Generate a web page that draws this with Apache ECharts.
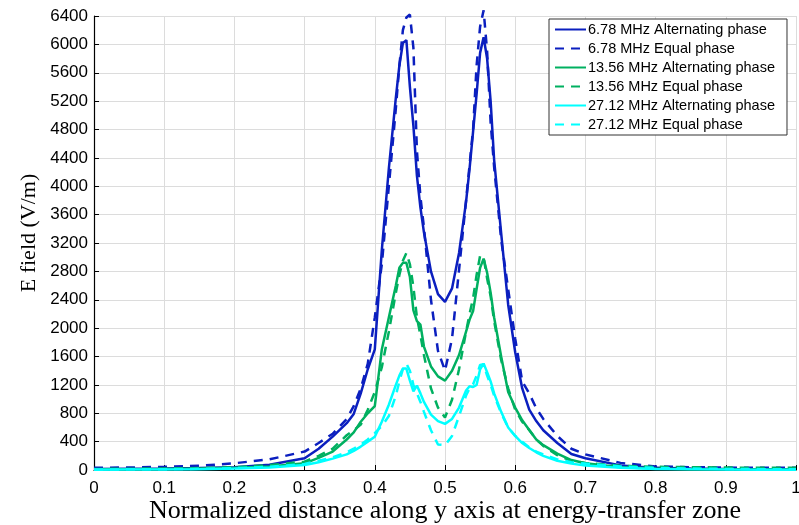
<!DOCTYPE html>
<html>
<head>
<meta charset="utf-8">
<script src="https://cdn.jsdelivr.net/npm/echarts@6/dist/echarts.min.js"></script>
<style>
  html, body { margin: 0; padding: 0; background: #fff; }
  #chart { width: 799px; height: 525px; }
</style>
</head>
<body>
<div id="chart"></div>
<script>
  // normalized distance (shared by every curve)
  var distance = [0, 0.05, 0.1, 0.15, 0.2, 0.25, 0.3, 0.32, 0.34, 0.36, 0.37, 0.38, 0.39,
    0.40, 0.41, 0.42, 0.43, 0.435, 0.44, 0.445, 0.45, 0.455, 0.46, 0.465, 0.47,
    0.48, 0.49, 0.50, 0.51, 0.52, 0.53, 0.535, 0.54, 0.545, 0.55, 0.555, 0.56, 0.565, 0.57,
    0.58, 0.59, 0.60, 0.61, 0.62, 0.63, 0.64, 0.66, 0.68, 0.70, 0.75, 0.8, 0.85, 0.9, 0.95, 1.0];

  var alt678 = [15, 18, 22, 28, 40, 75, 165, 300, 470, 660, 790, 1080, 1420,
    1700, 3100, 4250, 5250, 5700, 6020, 6060, 5400, 4850, 4150, 3700, 3350,
    2800, 2480, 2370, 2560, 3060, 3780, 4250, 4770, 5300, 5880, 6100, 5800, 5200, 4370,
    3340, 2330, 1660, 1150, 850, 690, 560, 380, 225, 165, 65, 30, 20, 15, 12, 10];

  var eq678 = [30, 35, 45, 60, 95, 150, 260, 380, 510, 720, 900, 1150, 1500,
    2150, 2900, 4000, 5100, 5700, 6200, 6380, 6420, 5950, 4500, 3850, 3420,
    2400, 1680, 1400, 1850, 2820, 3800, 4300, 4800, 5700, 6250, 6480, 5900, 4900, 4270,
    3250, 2550, 1850, 1250, 1080, 870, 720, 480, 300, 220, 100, 50, 40, 35, 30, 30];

  var alt1356 = [10, 12, 15, 20, 30, 50, 94, 170, 260, 430, 530, 680, 800,
    900, 1700, 2150, 2600, 2850, 2920, 2920, 2720, 2250, 2100, 2050, 1740,
    1460, 1320, 1260, 1400, 1620, 1950, 2120, 2240, 2550, 2850, 2980, 2780, 2500, 2150,
    1600, 1100, 880, 700, 564, 430, 350, 230, 140, 94, 40, 20, 12, 10, 8, 8];

  var eq1356 = [15, 18, 22, 28, 40, 70, 118, 200, 300, 490, 560, 640, 850,
    1100, 1450, 1950, 2500, 2750, 2950, 3060, 2900, 2580, 2150, 1900, 1620,
    1150, 880, 740, 990, 1420, 1950, 2200, 2420, 2750, 3020, 3000, 2700, 2450, 2100,
    1550, 1150, 850, 680, 564, 430, 340, 210, 130, 100, 60, 45, 40, 35, 30, 30];

  var alt2712 = [5, 6, 8, 12, 20, 35, 70, 110, 160, 220, 270, 330, 400,
    470, 680, 920, 1200, 1330, 1430, 1430, 1260, 1110, 1190, 1080, 960,
    780, 690, 650, 720, 880, 1120, 1180, 1170, 1200, 1420, 1500, 1380, 1250, 1080,
    820, 600, 480, 380, 310, 250, 200, 130, 90, 65, 30, 15, 10, 6, 5, 5];

  var eq2712 = [8, 9, 12, 16, 25, 45, 85, 130, 180, 250, 300, 360, 430,
    520, 620, 760, 1050, 1250, 1420, 1500, 1400, 1200, 1080, 960, 820,
    560, 360, 350, 480, 760, 1050, 1150, 1210, 1330, 1480, 1490, 1330, 1200, 1050,
    800, 600, 480, 400, 320, 260, 220, 150, 110, 90, 50, 30, 20, 15, 12, 10];

  var names = ['6.78 MHz Alternating phase', '6.78 MHz Equal phase',
    '13.56 MHz Alternating phase', '13.56 MHz Equal phase',
    '27.12 MHz Alternating phase', '27.12 MHz Equal phase'];

  var blue = '#0b1fbf', green = '#00b060', cyan = '#00ffff';

  function makeLine(name, values, color, dashed) {
    return {
      type: 'line',
      name: name,
      data: distance.map(function (d, i) { return [d, values[i]]; }),
      symbol: 'none',
      clip: false,
      lineStyle: { color: color, width: 2.5, type: dashed ? [9, 7] : 'solid' },
      itemStyle: { color: color }
    };
  }

  var chart = echarts.init(document.getElementById('chart'));

  chart.setOption({
    animation: false,
    grid: { left: 94, right: 3, top: 16, bottom: 55, outerBoundsMode: 'none' },
    legend: {
      orient: 'vertical',
      left: 549,
      top: 19,
      itemWidth: 31,
      itemHeight: 14,
      itemGap: 4,
      padding: [3, 12, 3, 5],
      backgroundColor: '#fff',
      borderColor: '#333',
      borderWidth: 1,
      borderRadius: 0,
      itemStyle: { opacity: 0 },
      textStyle: { fontFamily: 'Liberation Sans', fontSize: 14.5, color: '#000', padding: [0, 0, 0, -3] },
      data: names
    },
    xAxis: {
      type: 'value',
      min: 0,
      max: 1,
      interval: 0.1,
      name: 'Normalized distance along y axis at energy-transfer zone',
      nameLocation: 'middle',
      nameGap: 28,
      nameMoveOverlap: false,
      nameTextStyle: { fontFamily: 'Liberation Serif', fontSize: 26, color: '#000' },
      axisLine: { lineStyle: { color: '#000', width: 1.2 } },
      axisTick: { inside: true, length: 5, lineStyle: { color: '#000' } },
      axisLabel: { fontFamily: 'Liberation Sans', fontSize: 17, color: '#000', margin: 10 },
      splitLine: { show: true, lineStyle: { color: '#dcdcdc', width: 1 } }
    },
    yAxis: {
      type: 'value',
      min: 0,
      max: 6400,
      interval: 400,
      name: 'E field (V/m)',
      nameLocation: 'middle',
      nameGap: 54,
      nameMoveOverlap: false,
      nameTextStyle: { fontFamily: 'Liberation Serif', fontSize: 22, color: '#000', padding: [0, 0, 0, 20] },
      axisLine: { show: true, lineStyle: { color: '#000', width: 1.2 } },
      axisTick: { show: true, inside: true, length: 5, lineStyle: { color: '#000' } },
      axisLabel: {
        fontFamily: 'Liberation Sans', fontSize: 17, color: '#000', margin: 6,
        formatter: function (v) { return String(v); }
      },
      splitLine: { show: true, lineStyle: { color: '#dcdcdc', width: 1 } }
    },
    series: [
      makeLine(names[0], alt678, blue, false),
      makeLine(names[1], eq678, blue, true),
      makeLine(names[2], alt1356, green, false),
      makeLine(names[3], eq1356, green, true),
      makeLine(names[4], alt2712, cyan, false),
      makeLine(names[5], eq2712, cyan, true)
    ]
  });
</script>
</body>
</html>
